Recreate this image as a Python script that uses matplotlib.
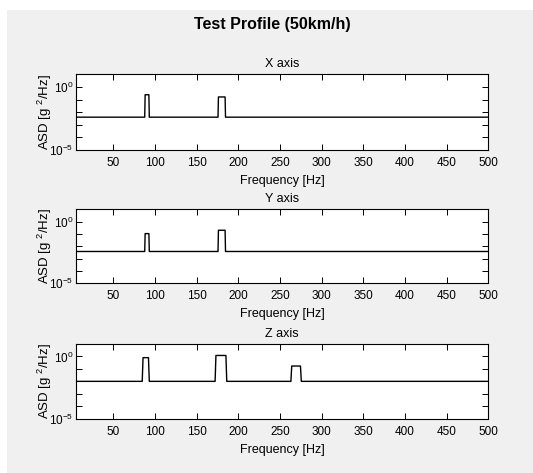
import matplotlib.pyplot as plt
from matplotlib.patches import Rectangle
from matplotlib.ticker import FixedLocator, FixedFormatter

plt.rcParams['font.family'] = ['Liberation Sans', 'DejaVu Sans']
plt.rcParams['mathtext.fontset'] = 'custom'
plt.rcParams['mathtext.rm'] = 'Liberation Sans'
plt.rcParams['mathtext.it'] = 'Liberation Sans'

# breakpoints of the ASD profiles (Hz, g^2/Hz)
x_freq = [5, 87.5, 88, 92.5, 93, 175.5, 176, 184, 184.5, 500]
x_asd = [0.004, 0.004, 0.24, 0.24, 0.004, 0.004, 0.16, 0.16, 0.004, 0.004]

y_freq = [5, 87.5, 88, 92.5, 93, 175.5, 176, 184, 184.5, 500]
y_asd = [0.0038, 0.0038, 0.107, 0.107, 0.0038, 0.0038, 0.2, 0.2, 0.0038, 0.0038]

z_freq = [5, 84.5, 85.5, 92, 93, 172, 173, 185, 186, 263, 264, 274.5, 275.5, 500]
z_asd = [0.01, 0.01, 0.8, 0.8, 0.01, 0.01, 1.2, 1.2, 0.01, 0.01, 0.17, 0.17, 0.01, 0.01]

panels = [('X axis', x_freq, x_asd), ('Y axis', y_freq, y_asd), ('Z axis', z_freq, z_asd)]
x_ticks = [50, 100, 150, 200, 250, 300, 350, 400, 450, 500]
y_ticks = [1e-5, 1e-4, 1e-3, 1e-2, 1e-1, 1e0]
y_labels = [r'$10^{-5}$', '', '', '', '', r'$10^{0}$']

W, H = 533, 473
fig = plt.figure(figsize=(W / 100, H / 100), dpi=100, facecolor='white')
# MATLAB-like gray figure area
fig.patches.append(Rectangle((7 / W, 0), 1, 1 - 10 / H, transform=fig.transFigure,
                             facecolor='#f0f0f0', edgecolor='none', zorder=-10))

left, right = 76, 488.3
boxes = [(74.3, 150), (209.3, 283.3), (344, 418.7)]

for (title, freq, asd), (top, bot) in zip(panels, boxes):
    h = bot - top
    ax = fig.add_axes([left / W, 1 - bot / H, (right - left) / W, h / H])
    ax.set_facecolor('white')
    ax.plot(freq, asd, color='black', lw=1.0)
    ax.set_yscale('log')
    ax.set_xlim(5, 500)
    ax.set_ylim(1e-5, 1e1)
    ax.set_xticks(x_ticks)
    ax.yaxis.set_major_locator(FixedLocator(y_ticks))
    ax.yaxis.set_major_formatter(FixedFormatter(y_labels))
    ax.yaxis.set_minor_locator(FixedLocator([]))
    ax.tick_params(direction='in', top=True, right=True, length=4, width=0.7,
                   labelsize=8.5)
    ax.tick_params(axis='x', pad=5)
    ax.tick_params(axis='y', pad=2)
    for s in ax.spines.values():
        s.set_linewidth(0.8)
    ax.text(0.5, 1 + 10 / h, title, transform=ax.transAxes, ha='center', va='center',
            fontsize=9)
    ax.set_xlabel('Frequency [Hz]', fontsize=9, va='center')
    ax.xaxis.set_label_coords(0.5, -31 / h)
    ax.set_ylabel(r'ASD [g $^{2}$/Hz]', fontsize=9.5, va='center')
    ax.yaxis.set_label_coords(-31 / (right - left), 0.5)

fig.text(0.51, 1 - 24 / H, 'Test Profile (50km/h)', ha='center', va='center',
         fontsize=11.5, fontweight='bold')

fig.savefig('out.png', dpi=100, facecolor=fig.get_facecolor())
